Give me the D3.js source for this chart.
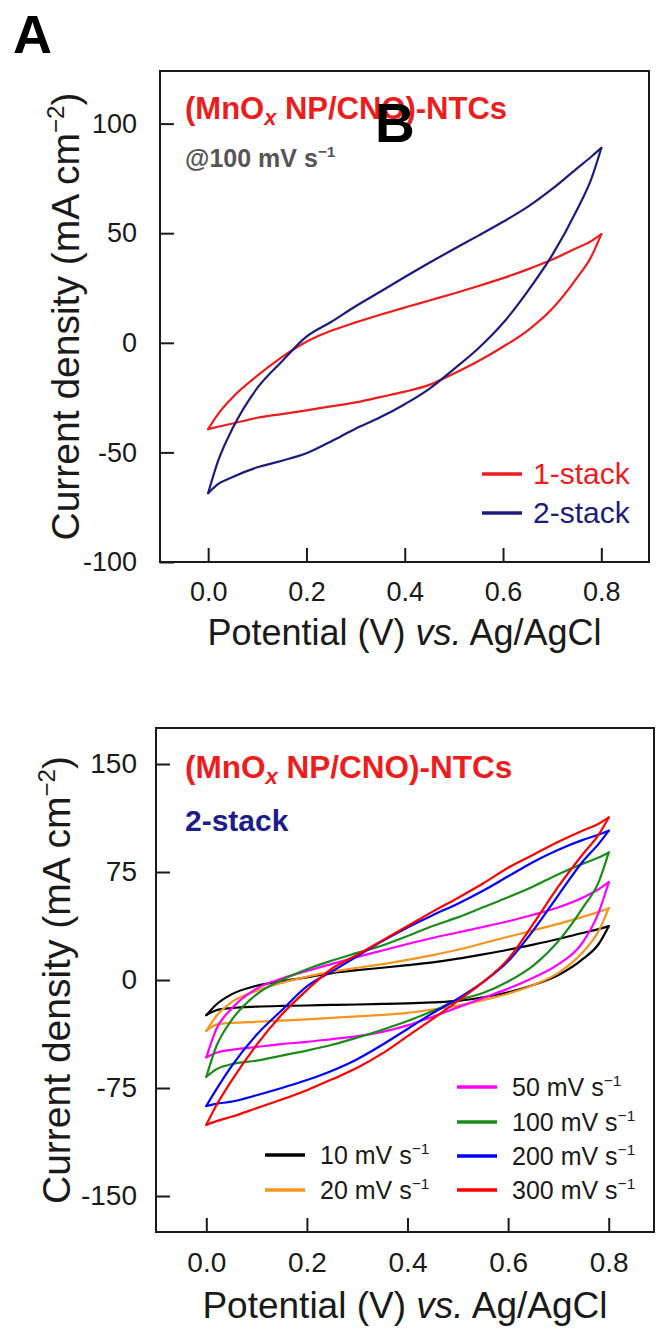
<!DOCTYPE html>
<html>
<head>
<meta charset="utf-8">
<script src="https://cdn.jsdelivr.net/npm/d3@7"></script>
<style>
    body { margin: 0; background: #fff; }
    svg { display: block; font-family: Arial, "Liberation Sans", sans-serif; }
</style>
</head>
<body>
<svg id="fig" width="656" height="1329"></svg>
<script>
    "use strict";

    // potential grid (V vs. Ag/AgCl), shared by every branch
    var potential = [0, 0.02, 0.05, 0.1, 0.15, 0.2, 0.25, 0.3, 0.35, 0.4, 0.45, 0.5, 0.55, 0.6, 0.65, 0.7, 0.75, 0.78, 0.8];

    // panel A : 100 mV/s, fwd = anodic sweep, rev = cathodic sweep (mA cm-2)
    var stackNames = ["1-stack", "2-stack"];
    var stack1Fwd = [-39.4, -32.5, -24.8, -15, -6.5, 0.5, 5.5, 9.3, 12.8, 16.1, 19.3, 22.5, 25.9, 29.5, 33.5, 38, 43.2, 46.5, 49.6];
    var stack1Rev = [-39.4, -38.3, -36.8, -34.2, -32.5, -30.8, -29, -27.2, -24.8, -22.3, -19.2, -14, -8.3, -1.8, 5.6, 15.5, 29.5, 39.5, 49.6];
    var stack2Fwd = [-68.6, -54, -38.9, -20.6, -8.5, 2.8, 9.5, 16.7, 23.3, 30, 36.5, 42.8, 48.9, 55.2, 62, 70.2, 79.5, 85, 88.9];
    var stack2Rev = [-68.6, -64.5, -61.2, -56.8, -53.8, -50.4, -45, -39.2, -34, -28, -21, -12, -2.5, 9, 23.5, 40, 60.5, 75, 88.9];

    // panel B : 2-stack at several scan rates
    var scanRates = ["10", "20", "50", "100", "200", "300"];
    var cv10Fwd = [-24.4, -17, -10, -4, -0.8, 1.8, 4.8, 6.8, 8.5, 10.3, 12.3, 14.8, 17.8, 21, 24.6, 28.5, 32.8, 35.3, 37.4];
    var cv10Rev = [-24.4, -21, -19.5, -18.5, -18, -17.7, -17.3, -17, -16.6, -16.2, -15.5, -14.5, -12, -8.5, -3.5, 3.5, 15, 25, 37.4];
    var cv20Fwd = [-35.3, -25, -15.5, -7.5, -2, 2.3, 5.8, 8.5, 11, 14, 17.3, 21, 25.5, 30, 34.5, 39, 44, 47.3, 49.9];
    var cv20Rev = [-35.3, -31, -29.8, -29, -28.2, -27.3, -26.3, -25.3, -24.2, -22.8, -20.5, -17.8, -14, -9.5, -3.5, 5, 20, 34, 49.9];
    var cv50Fwd = [-53.7, -34, -20, -6, 1, 6.3, 11.2, 16, 20.5, 25, 29.2, 33, 36.8, 40.8, 45.3, 50.5, 57.5, 63, 67.9];
    var cv50Rev = [-53.7, -50.5, -48.5, -46.5, -44.5, -43, -41, -39, -36, -31.5, -25.5, -19, -12.5, -6, 1.5, 11, 27, 47, 67.9];
    var cv100Fwd = [-67.2, -46, -28, -10, 0, 7.5, 13.5, 18.8, 24, 30.5, 37.5, 43.5, 50.5, 57.5, 65, 73.5, 81, 85, 88.6];
    var cv100Rev = [-67.2, -62, -58.5, -56, -52.5, -49, -45, -40, -34.5, -28.5, -21.5, -14, -9, -1, 10, 27, 51, 68, 88.6];
    var cv200Fwd = [-87.5, -76, -60, -38, -21, -4.5, 6, 16.5, 27, 36.5, 45, 53, 62, 72, 82, 90.5, 97.5, 101, 103.7];
    var cv200Rev = [-87.5, -86, -84.5, -80, -75, -69.5, -63, -55, -45, -34, -23, -13, -1.5, 13, 34.5, 59, 83, 94.5, 103.7];
    var cv300Fwd = [-100.6, -87, -70, -45, -24, -7, 8, 17.5, 27.5, 37.5, 47.5, 57, 67, 78, 87, 96, 104, 108.5, 112.9];
    var cv300Rev = [-100.6, -98, -95, -89, -83, -76.5, -69, -61, -51, -39, -27, -14.5, -1.5, 14.5, 39, 65, 88, 101, 112.9];

    var xTicks = [0, 0.2, 0.4, 0.6, 0.8];
    var yTicksA = [-100, -50, 0, 50, 100];
    var yTicksB = [-150, -75, 0, 75, 150];

    var svg = d3.select("#fig");

    /**
    Draws frame, ticks and axis titles of one panel. Ticks point inward.
    */
    function drawFrame(x, y, yTicks, cfg) {
        var g = svg.append("g");
        var x0 = x.range()[0], x1 = x.range()[1];
        var yb = y.range()[0], yt = y.range()[1];

        var ax = g.append("g")
            .attr("transform", "translate(0," + yb + ")")
            .call(d3.axisBottom(x).tickValues(xTicks).tickFormat(d3.format(".1f"))
                .tickSizeInner(-14).tickSizeOuter(0).tickPadding(cfg.xPad));
        var ay = g.append("g")
            .attr("transform", "translate(" + x0 + ",0)")
            .call(d3.axisLeft(y).tickValues(yTicks).tickFormat(String)
                .tickSizeInner(-14).tickSizeOuter(0).tickPadding(cfg.yPad));
        [ax, ay].forEach(function(a) {
            a.select(".domain").remove();
            a.selectAll("line").attr("stroke", "#1a1a1a").attr("stroke-width", 2);
            a.selectAll("text").attr("fill", "#1a1a1a").style("font-size", cfg.tickFont + "px")
                .style("font-family", "Arial, 'Liberation Sans', sans-serif");
        });

        g.append("rect")
            .attr("x", x0).attr("y", yt)
            .attr("width", x1 - x0).attr("height", yb - yt)
            .attr("fill", "none").attr("stroke", "#1a1a1a").attr("stroke-width", 2);

        var xt = g.append("text")
            .attr("x", (x0 + x1) / 2).attr("y", cfg.xTitleY)
            .attr("text-anchor", "middle").attr("fill", "#1a1a1a")
            .style("font-size", cfg.xTitleFont + "px");
        xt.append("tspan").text("Potential (V) ");
        xt.append("tspan").attr("font-style", "italic").text("vs.");
        xt.append("tspan").text(" Ag/AgCl");

        var yc = (yb + yt) / 2;
        var yl = g.append("text")
            .attr("transform", "translate(" + cfg.yTitleX + "," + yc + ") rotate(-90)")
            .attr("text-anchor", "middle").attr("fill", "#1a1a1a")
            .style("font-size", cfg.yTitleFont + "px");
        yl.append("tspan").text("Current density (mA cm");
        yl.append("tspan").attr("dy", -15).style("font-size", (cfg.yTitleFont * 0.62) + "px").text("\u22122");
        yl.append("tspan").attr("dy", 15).text(")");
    }

    function drawLoop(x, y, fwd, rev, color, width) {
        var line = d3.line()
            .x(function(d) { return x(d[0]); })
            .y(function(d) { return y(d[1]); })
            .curve(d3.curveMonotoneX);
        [fwd, rev].forEach(function(vals) {
            svg.append("path")
                .datum(potential.map(function(p, i) { return [p, vals[i]]; }))
                .attr("d", line)
                .attr("fill", "none")
                .attr("stroke", color)
                .attr("stroke-width", width)
                .attr("stroke-linejoin", "round")
                .attr("stroke-linecap", "round");
        });
    }

    function drawTitle(xp, yp, size) {
        var t = svg.append("text")
            .attr("x", xp).attr("y", yp)
            .attr("fill", "#ee1c1c").attr("font-weight", "bold")
            .style("font-size", size + "px");
        t.append("tspan").text("(MnO");
        t.append("tspan").attr("dy", 6).attr("font-style", "italic").style("font-size", (size * 0.7) + "px").text("x");
        t.append("tspan").attr("dy", -6).text(" NP/CNO)-NTCs");
    }

    function superText(xp, yp, base, size, color, bold) {
        var t = svg.append("text")
            .attr("x", xp).attr("y", yp)
            .attr("fill", color)
            .attr("font-weight", bold ? "bold" : "normal")
            .style("font-size", size + "px");
        t.append("tspan").text(base);
        t.append("tspan").attr("dy", -size * 0.4).style("font-size", (size * 0.62) + "px").text("\u22121");
        return t;
    }

    // ---------- panel A ----------
    var xA = d3.scaleLinear().domain([-0.098, 0.897]).range([160, 649]);
    var yA = d3.scaleLinear().domain([-100, 124]).range([562, 71]);

    drawFrame(xA, yA, yTicksA, {
        xPad: 20, yPad: 23, tickFont: 27,
        xTitleY: 645, xTitleFont: 36, yTitleX: 79, yTitleFont: 39
    });

    var colorsA = ["#ee1c1c", "#1c1c80"];
    drawLoop(xA, yA, stack1Fwd, stack1Rev, colorsA[0], 2.2);
    drawLoop(xA, yA, stack2Fwd, stack2Rev, colorsA[1], 2.2);

    drawTitle(185, 119, 31);
    superText(185, 167, "@100 mV s", 25, "#555", true);

    stackNames.forEach(function(name, i) {
        var ly = 474 + i * 39;
        svg.append("line")
            .attr("x1", 482).attr("x2", 522).attr("y1", ly).attr("y2", ly)
            .attr("stroke", colorsA[i]).attr("stroke-width", 3.5);
        svg.append("text")
            .attr("x", 533).attr("y", ly + 10)
            .attr("fill", colorsA[i])
            .style("font-size", "30px")
            .text(name);
    });

    // ---------- panel B ----------
    var xB = d3.scaleLinear().domain([-0.1, 0.89]).range([156, 654]);
    var yB = d3.scaleLinear().domain([-175, 175]).range([1232, 728]);

    drawFrame(xB, yB, yTicksB, {
        xPad: 20, yPad: 19, tickFont: 28,
        xTitleY: 1318, xTitleFont: 37, yTitleX: 70, yTitleFont: 39
    });

    var colorsB = ["#000000", "#f7941d", "#ff00ff", "#1a8c1a", "#0000ff", "#ff0000"];
    var seriesB = [
        [cv10Fwd, cv10Rev], [cv20Fwd, cv20Rev], [cv50Fwd, cv50Rev],
        [cv100Fwd, cv100Rev], [cv200Fwd, cv200Rev], [cv300Fwd, cv300Rev]
    ];
    seriesB.forEach(function(s, i) {
        drawLoop(xB, yB, s[0], s[1], colorsB[i], 2.2);
    });

    drawTitle(185, 778, 31.5);
    svg.append("text")
        .attr("x", 185).attr("y", 831)
        .attr("fill", "#1c1c8c").attr("font-weight", "bold")
        .style("font-size", "30px")
        .text("2-stack");

    // legend: 10, 20 in the left column, 50..300 in the right one
    var legPos = [[265, 1155], [265, 1190], [457, 1087], [457, 1122], [457, 1156], [457, 1190]];
    scanRates.forEach(function(r, i) {
        var p = legPos[i];
        svg.append("line")
            .attr("x1", p[0]).attr("x2", p[0] + 40).attr("y1", p[1]).attr("y2", p[1])
            .attr("stroke", colorsB[i]).attr("stroke-width", 3.5);
        superText(p[0] + 55, p[1] + 9, r + " mV s", 25, "#1a1a1a", false);
    });

    // panel letters
    svg.append("text").attr("x", 13).attr("y", 53)
        .attr("font-weight", "bold").style("font-size", "54px").text("A");
    svg.append("text").attr("x", 375).attr("y", 142)
        .attr("font-weight", "bold").style("font-size", "55px").text("B");
</script>
</body>
</html>
